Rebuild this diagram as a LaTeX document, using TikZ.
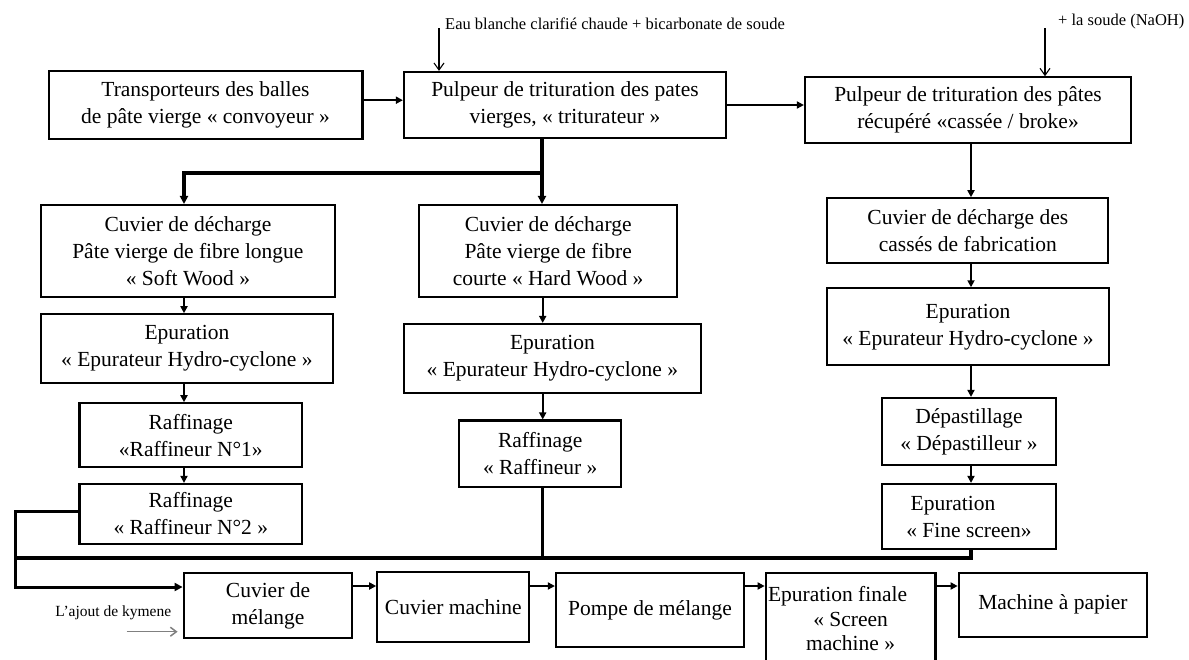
\documentclass[tikz,border=0pt]{standalone}
\usepackage{fontspec}
\setmainfont{Liberation Serif}
\usetikzlibrary{arrows.meta}
\tikzset{
  box/.style={draw, line width=2.2pt, inner sep=0pt, align=center, font=\fontsize{21.5pt}{27pt}\selectfont},
  conn/.style={line width=2pt, -{Triangle[length=7pt,width=7pt]}},
  thickline/.style={line width=3.5pt},
  thickarr/.style={line width=3.5pt, -{Triangle[length=8pt,width=8pt]}},
  note/.style={font=\fontsize{16.5pt}{19pt}\selectfont, inner sep=0pt},
  notearr/.style={line width=1.1pt, -{Straight Barb[length=7pt,width=10pt]}},
}
\begin{document}
\begin{tikzpicture}[x=1pt,y=-1pt]
\useasboundingbox (0,0) rectangle (1189,659);
% top row
\node[box, minimum width=313.8pt, minimum height=68.3pt] (A) at (205.5,105.2) {Transporteurs des balles\\de pâte vierge « convoyeur »};
\node[box, minimum width=322pt, minimum height=66pt] (B) at (565,105) {Pulpeur de trituration des pates\\vierges, « triturateur »};
\node[box, minimum width=326pt, minimum height=65.7pt] (C) at (968,110.2) {Pulpeur de trituration des pâtes\\récupéré «cassée / broke»};
% left column
\node[box, minimum width=294.3pt, minimum height=91.7pt] (D1) at (187.9,250.9) {Cuvier de décharge\\Pâte vierge de fibre longue\\« Soft Wood »};
\node[box, minimum width=292.3pt, minimum height=68.4pt] (D2) at (186.9,348.5) {Epuration\\« Epurateur Hydro-cyclone »};
\node[box, minimum width=222.5pt, minimum height=64pt] (D3) at (190.8,435.3) {Raffinage\\«Raffineur N°1»};
\node[box, minimum width=222.5pt, minimum height=60pt] (D4) at (190.8,514) {Raffinage\\« Raffineur N°2 »};
% middle column
\node[box, minimum width=258.3pt, minimum height=91.7pt] (E1) at (548.2,250.9) {Cuvier de décharge\\Pâte vierge de fibre\\courte « Hard Wood »};
\node[box, minimum width=296.7pt, minimum height=68.7pt] (E2) at (552.4,358.4) {Epuration\\« Epurateur Hydro-cyclone »};
\node[box, minimum width=161.7pt, minimum height=66.5pt] (E3) at (540.2,453.8) {Raffinage\\« Raffineur »};
% right column
\node[box, minimum width=281pt, minimum height=64.4pt] (F1) at (967.8,230.5) {Cuvier de décharge des\\cassés de fabrication};
\node[box, minimum width=282pt, minimum height=76.7pt] (F2) at (968,326.7) {Epuration\\« Epurateur Hydro-cyclone »};
\node[box, minimum width=174pt, minimum height=67pt] (F3) at (969,431.5) {Dépastillage\\« Dépastilleur »};
\node[box, minimum width=174pt, minimum height=65pt] (F4) at (969,516.5) {\hspace*{-32pt}Epuration\\« Fine screen»};
% bottom row
\node[box, minimum width=168.6pt, minimum height=65.6pt] (G1) at (268,605.5) {Cuvier de\\mélange};
\node[box, minimum width=152pt, minimum height=70pt] (G2) at (453.3,606.7) {Cuvier machine};
\node[box, minimum width=188pt, minimum height=73.7pt] (G3) at (650,609.9) {Pompe de mélange};
\node[box, minimum width=169.7pt, minimum height=92pt, font=\fontsize{21.5pt}{24.5pt}\selectfont] (G4) at (850.6,619) {\hspace*{-26pt}Epuration finale\\« Screen\\machine »};
\node[box, minimum width=188.3pt, minimum height=64pt] (G5) at (1052.9,604.7) {Machine à papier};
% annotations
\coordinate (eau) at (439,28);
\draw[notearr] (eau) -- (eau |- B.north);
\node[note, anchor=west] (eautxt) at (445,24) {Eau blanche clarifié chaude + bicarbonate de soude};
\coordinate (naoh) at (1045,28);
\draw[notearr] (naoh) -- (naoh |- C.north);
\node[note, anchor=west] (naohtxt) at (1058,22) {+ la soude (NaOH)};
\node[font=\fontsize{15.5pt}{18pt}\selectfont, inner sep=0pt] (kym) at (113.3,612.7) {L’ajout de kymene};
\coordinate (kyS) at (126.7,631.7);
\draw[gray, line width=1.5pt, -{Straight Barb[length=6pt,width=9pt]}] (kyS) -- ([xshift=-5pt]kyS -| G1.west);
% top connectors
\draw[conn] ([yshift=5pt]A.east) -- ([yshift=5pt]A.east -| B.west);
\draw[conn] (B.east) -- (B.east -| C.west);
% branch from B
\coordinate (j1) at (542,173);
\coordinate (j2) at (184,173);
\draw[thickarr] (j1) -- (j2) -- (j2 |- D1.north);
\draw[thickarr] (B.south -| j1) -- (j1 |- E1.north);
% columns
\coordinate (cD) at (184,0);
\coordinate (cE) at (542.7,0);
\coordinate (cF) at (971,0);
\draw[conn] (D1.south -| cD) -- (D2.north -| cD);
\draw[conn] (D2.south -| cD) -- (D3.north -| cD);
\draw[conn] (D3.south -| cD) -- (D4.north -| cD);
\draw[conn] (E1.south -| cE) -- (E2.north -| cE);
\draw[conn] (E2.south -| cE) -- (E3.north -| cE);
\draw[conn] (C.south -| cF) -- (F1.north -| cF);
\draw[conn] (F1.south -| cF) -- (F2.north -| cF);
\draw[conn] (F2.south -| cF) -- (F3.north -| cF);
\draw[conn] (F3.south -| cF) -- (F4.north -| cF);
% collecting bus
\coordinate (bus) at (0,558);
\coordinate (bL) at (15,558);
\coordinate (lb) at (15,587);
\draw[thickline] (E3.south -| cE) -- (cE |- bus);
\draw[thickline] (F4.south -| cF) -- (cF |- bus) -- (bL);
\draw[line width=3pt, -{Triangle[length=8pt,width=8pt]}] ([yshift=2.3pt]D4.west) -| (lb) -- (lb -| G1.west);
% bottom row connectors
\coordinate (row) at (0,586);
\draw[conn] (G1.east |- row) -- (G2.west |- row);
\draw[conn] (G2.east |- row) -- (G3.west |- row);
\draw[conn] (G3.east |- row) -- (G4.west |- row);
\draw[conn] (G4.east |- row) -- (G5.west |- row);
\end{tikzpicture}
\end{document}
